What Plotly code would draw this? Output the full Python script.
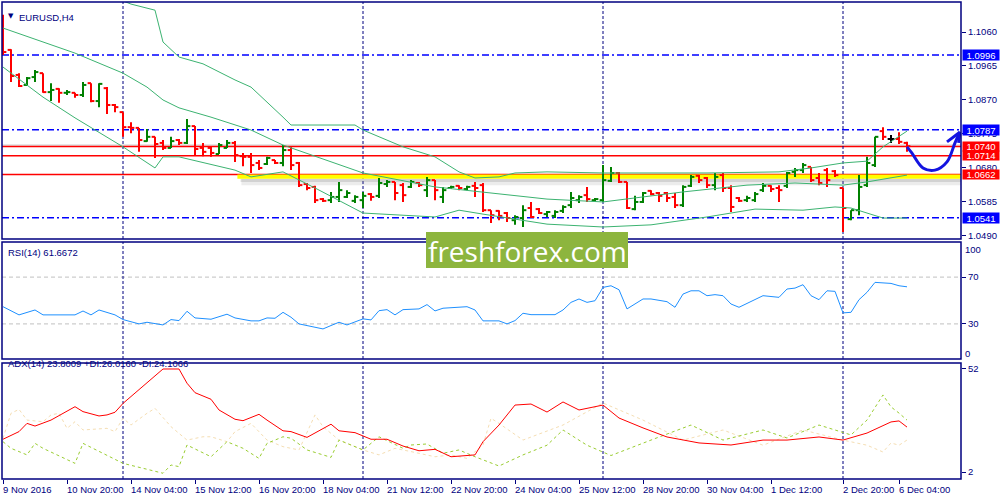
import plotly.graph_objects as go

# ---------------- data ----------------
OPEN = [1.1094,1.1010,1.0940,1.0912,1.0934,1.0945,1.0892,1.0901,1.0890,1.0890,
        1.0884,1.0917,1.0867,1.0903,1.0856,1.0836,1.0794,1.0792,1.0755,1.0767,
        1.0750,1.0736,1.0758,1.0750,1.0797,1.0736,1.0736,1.0719,1.0736,1.0750,
        1.0713,1.0711,1.0694,1.0691,1.0702,1.0694,1.0730,1.0694,1.0635,1.0627,
        1.0593,1.0590,1.0599,1.0599,1.0588,1.0590,1.0607,1.0602,1.0635,1.0641,
        1.0632,1.0627,1.0638,1.0618,1.0646,1.0599,1.0624,1.0630,1.0621,1.0630,
        1.0632,1.0562,1.0560,1.0554,1.0534,1.0540,1.0568,1.0565,1.0551,1.0546,
        1.0560,1.0576,1.0590,1.0604,1.0590,1.0590,1.0644,1.0666,1.0641,1.0565,
        1.0585,1.0616,1.0610,1.0610,1.0599,1.0576,1.0630,1.0658,1.0652,1.0632,
        1.0660,1.0624,1.0596,1.0590,1.0590,1.0618,1.0630,1.0624,1.0630,1.0669,
        1.0674,1.0683,1.0652,1.0674,1.0671,1.0624,1.0537,1.0562,1.0632,1.0688,
        1.0783,1.0761,1.0761,1.0750]
HIGH = [1.1108,1.1012,1.0945,1.0934,1.0954,1.0945,1.0917,1.0903,1.0898,1.0890,
        1.0920,1.0917,1.0917,1.0906,1.0859,1.0836,1.0808,1.0792,1.0789,1.0767,
        1.0758,1.0767,1.0761,1.0817,1.0797,1.0750,1.0739,1.0750,1.0758,1.0755,
        1.0722,1.0722,1.0702,1.0711,1.0702,1.0744,1.0739,1.0697,1.0638,1.0630,
        1.0596,1.0613,1.0641,1.0618,1.0604,1.0613,1.0610,1.0652,1.0646,1.0641,
        1.0638,1.0646,1.0641,1.0655,1.0646,1.0627,1.0630,1.0632,1.0630,1.0641,
        1.0638,1.0562,1.0562,1.0557,1.0548,1.0576,1.0585,1.0568,1.0560,1.0562,
        1.0576,1.0613,1.0604,1.0627,1.0596,1.0688,1.0683,1.0669,1.0641,1.0602,
        1.0613,1.0618,1.0613,1.0613,1.0610,1.0632,1.0660,1.0660,1.0655,1.0666,
        1.0666,1.0632,1.0599,1.0602,1.0613,1.0638,1.0632,1.0632,1.0669,1.0680,
        1.0694,1.0683,1.0666,1.0680,1.0674,1.0624,1.0562,1.0660,1.0711,1.0767,
        1.0794,1.0772,1.0780,1.0753]
LOW = [1.0996,1.0920,1.0906,1.0909,1.0920,1.0890,1.0867,1.0862,1.0884,1.0876,
       1.0878,1.0864,1.0850,1.0831,1.0836,1.0767,1.0777,1.0725,1.0753,1.0708,
       1.0730,1.0736,1.0744,1.0747,1.0716,1.0713,1.0711,1.0719,1.0736,1.0697,
       1.0685,1.0666,1.0674,1.0688,1.0691,1.0685,1.0674,1.0627,1.0618,1.0582,
       1.0585,1.0582,1.0585,1.0596,1.0582,1.0568,1.0588,1.0596,1.0627,1.0590,
       1.0585,1.0624,1.0627,1.0599,1.0590,1.0582,1.0621,1.0618,1.0618,1.0599,
       1.0557,1.0526,1.0534,1.0529,1.0521,1.0515,1.0540,1.0551,1.0543,1.0540,
       1.0554,1.0568,1.0582,1.0585,1.0585,1.0585,1.0641,1.0638,1.0565,1.0562,
       1.0582,1.0604,1.0585,1.0585,1.0568,1.0571,1.0627,1.0638,1.0624,1.0618,
       1.0613,1.0557,1.0585,1.0585,1.0585,1.0613,1.0613,1.0585,1.0624,1.0655,
       1.0666,1.0641,1.0632,1.0627,1.0655,1.0501,1.0534,1.0548,1.0627,1.0683,
       1.0758,1.0750,1.0747,1.0725]
CLOSE = [1.1004,1.0937,1.0909,1.0931,1.0948,1.0892,1.0898,1.0890,1.0892,1.0884,
         1.0912,1.0867,1.0915,1.0856,1.0850,1.0794,1.0792,1.0758,1.0767,1.0747,
         1.0736,1.0755,1.0750,1.0797,1.0733,1.0725,1.0722,1.0744,1.0750,1.0716,
         1.0711,1.0688,1.0680,1.0708,1.0694,1.0730,1.0688,1.0632,1.0624,1.0590,
         1.0588,1.0599,1.0618,1.0610,1.0599,1.0602,1.0599,1.0638,1.0641,1.0610,
         1.0604,1.0641,1.0632,1.0646,1.0618,1.0618,1.0627,1.0624,1.0627,1.0624,
         1.0562,1.0548,1.0546,1.0540,1.0543,1.0562,1.0543,1.0554,1.0557,1.0557,
         1.0571,1.0596,1.0599,1.0593,1.0593,1.0646,1.0666,1.0641,1.0568,1.0585,
         1.0610,1.0607,1.0602,1.0596,1.0576,1.0627,1.0655,1.0646,1.0632,1.0655,
         1.0624,1.0571,1.0588,1.0596,1.0607,1.0630,1.0621,1.0618,1.0666,1.0674,
         1.0688,1.0646,1.0638,1.0646,1.0660,1.0568,1.0562,1.0627,1.0694,1.0767,
         1.0767,1.0761,1.0753,1.0741]

# Bollinger bands (bar index, value)
BB_UP_IDX = [15,16,19,20,22,25,29,31,35,36,44,45,50,54,57,59,62,64,68,75,88,97,101,105,108,110,113]
BB_UP = [1.1147,1.1138,1.1121,1.1032,1.0990,1.0971,1.0926,1.0906,1.0822,1.0800,1.0800,1.0786,1.0739,
         1.0711,1.0669,1.0652,1.0655,1.0666,1.0669,1.0666,1.0666,1.0669,1.0680,1.0694,1.0699,1.0739,1.0783]
BB_MID_IDX = [0,9,15,18,20,22,26,31,35,45,54,68,75,85,93,99,105,108,113]
BB_MID = [1.1071,1.1001,1.0945,1.0906,1.0870,1.0848,1.0822,1.0786,1.0744,1.0666,1.0627,1.0593,1.0585,
          1.0613,1.0632,1.0638,1.0632,1.0641,1.0660]
BB_LOW_IDX = [0,5,9,15,19,20,22,29,31,33,35,39,42,45,54,57,60,68,75,81,88,94,100,104,106,108,110,113]
BB_LOW = [1.0962,1.0878,1.0820,1.0739,1.0680,1.0711,1.0711,1.0674,1.0655,1.0663,1.0669,1.0624,1.0590,
          1.0554,1.0543,1.0562,1.0551,1.0523,1.0515,1.0521,1.0543,1.0565,1.0562,1.0571,1.0568,1.0554,1.0540,1.0540]

RSI_IDX = [0,2,4,5,9,10,11,12,14,15,17,18,20,21,22,23,24,26,28,29,31,32,33,34,35,36,37,38,40,41,
           42,43,44,45,46,47,48,49,50,52,53,54,55,57,58,59,60,62,63,64,65,66,69,70,71,72,73,74,75,76,
           77,78,79,80,81,83,84,85,86,87,88,89,90,91,92,93,95,97,98,99,100,101,102,103,104,105,106,107,
           108,109,110,111,112,113]
RSI = [44.7,37.7,41.9,37.7,37.7,41,37.7,41.9,37.7,33.7,30,31.4,29.1,33.7,32.8,40.8,35.1,34,38.3,35.1,
       32.6,32.6,35.1,34.8,39.9,35.7,30,28.6,25.7,28.6,31.4,29.1,31.4,34.3,33.4,41.3,42.2,37.7,42.2,42.8,
       46.5,41.1,43.4,43.9,44.7,41.9,32.6,32.6,30,32.8,39.1,37.9,37.9,41.9,48.4,51.3,48.4,49.8,61.2,62.6,
       59.2,42.8,47,51.3,51.3,49,44.2,55.5,58.3,58.3,54.1,55,54.1,47,44.2,47.6,54.1,52.7,59.8,60.6,
       63.5,54.1,50.7,58.3,57.8,39.4,39.9,50.7,57,65.5,64.9,64.6,62.6,61.7]

ADX_IDX = [0,2,3,4,6,9,10,12,13,14,15,17,19,20,22,23,24,26,27,29,30,32,33,35,36,38,41,42,44,46,
           48,50,52,54,56,59,60,62,64,66,68,70,72,75,77,80,83,87,91,95,98,102,105,108,110,111,112,113]
ADX = [17.9,21.6,25.6,24.3,27.2,33.7,31.3,29.2,29.7,31,35.3,41.8,48.3,52,52,45.1,40.5,37.3,32.1,27.6,
       26.9,30,27.2,22,21.6,18.8,25.2,22,21.1,17.9,17.9,14.6,12.3,13,9.4,10.3,16.7,24.8,34.5,35,
       31.1,36,32.1,34.5,28.2,23.4,19,16.1,15.1,17.5,17.5,19,17.5,20.9,24.5,26.3,26.8,23.8]
PDI_IDX = [0,1,3,4,5,9,10,12,15,20,21,22,23,26,28,30,32,33,35,36,38,41,42,45,47,50,51,53,55,57,
           59,62,65,68,70,73,76,81,86,90,95,98,102,106,108,110,111,112,113]
PDI = [16.7,13.5,10.3,15.9,13.5,6.2,15.9,11.9,6.2,1.4,5.4,4.6,15.1,9.4,16.7,13.5,8.6,15.9,19.1,18.4,
       12.7,9.1,17.5,12.7,19.1,13.5,15.1,15.6,11.1,12.7,9.4,4.9,10.3,15,22.4,15,10,17.5,24.8,17.5,
       22.4,18.5,24.8,20,27.2,39.4,33.6,30.6,27.2]
MDI_IDX = [0,1,2,3,5,6,7,8,9,10,13,14,15,16,18,19,21,23,25,26,28,29,31,33,35,37,39,40,42,45,
           47,49,51,54,56,58,60,61,62,65,70,75,80,85,90,95,100,105,108,110,111,112,113]
MDI = [18.4,30.5,32.4,27.2,26.4,29.7,30.5,23.2,26.4,22.4,23.2,21.6,28.1,24.8,30.5,32.9,24,17.5,19.1,19.1,
       16.7,21.6,25.6,17.5,14.3,12.7,29.7,24,17.5,12.7,10.3,13.5,11.9,9.4,10.3,8.6,15.1,28.1,25.6,17.5,
       24.8,35.5,27.2,17.5,22.4,15,22.4,17.5,15,11.7,16.1,15,17.5]

X_TICK_IDX = [0,8,16,24,32,40,48,56,64,72,80,88,96,105,112]
X_TICK_TEXT = ["9 Nov 2016","10 Nov 20:00","14 Nov 04:00","15 Nov 12:00","16 Nov 20:00",
               "18 Nov 04:00","21 Nov 12:00","22 Nov 20:00","24 Nov 04:00","25 Nov 12:00",
               "28 Nov 20:00","30 Nov 04:00","1 Dec 12:00","2 Dec 20:00","6 Dec 04:00"]
WEEK_SEPARATORS = [15,45,75,105]
PRICE_TICKS = [1.1060,1.0965,1.0870,1.0775,1.0680,1.0585,1.0490]
BLUE_LEVELS = [1.0996,1.0787,1.0541]
RED_LEVELS = [1.0740,1.0714,1.0662]
BID_LEVEL = 1.0744
ZONE = [1.0650,1.0662]
ZONE_START = 29.3
ARROW_X = [113,113.6,115,116.5,118,119,119.6]
ARROW_Y = [1.0739,1.0722,1.0680,1.0674,1.0697,1.0750,1.0780]
ARROW_HEAD_X = [118,119.6,119.45]
ARROW_HEAD_Y = [1.0753,1.0780,1.0750]

# ---------------- styling ----------------
NAVY = "#000080"
FONT = "Liberation Sans"
GREEN_BAR = "#008000"
RED_BAR = "#FF0000"
BB_COLOR = "#3CB371"

fig = go.Figure()

# OHLC bars as line segments
groups = {"up": ([], [], GREEN_BAR), "down": ([], [], RED_BAR), "doji": ([], [], "#000000")}
TW = 0.42
for i, (o, h, l, c) in enumerate(zip(OPEN, HIGH, LOW, CLOSE)):
    key = "up" if c > o else ("down" if c < o else "doji")
    xs, ys, _ = groups[key]
    xs += [i, i, None, i - TW, i, None, i, i + TW, None]
    ys += [l, h, None, o, o, None, c, c, None]
for key, (xs, ys, col) in groups.items():
    fig.add_trace(go.Scatter(x=xs, y=ys, mode="lines", line=dict(color=col, width=2),
                             xaxis="x", yaxis="y", hoverinfo="skip"))

for xi, yv in [(BB_UP_IDX, BB_UP), (BB_MID_IDX, BB_MID), (BB_LOW_IDX, BB_LOW)]:
    fig.add_trace(go.Scatter(x=xi, y=yv, mode="lines", line=dict(color=BB_COLOR, width=1),
                             xaxis="x", yaxis="y"))

fig.add_trace(go.Scatter(x=ARROW_X, y=ARROW_Y, mode="lines",
                         line=dict(color="#1414E0", width=3, shape="spline"), xaxis="x", yaxis="y"))
fig.add_trace(go.Scatter(x=ARROW_HEAD_X, y=ARROW_HEAD_Y, mode="lines",
                         line=dict(color="#1414E0", width=3), xaxis="x", yaxis="y"))

fig.add_trace(go.Scatter(x=RSI_IDX, y=RSI, mode="lines", line=dict(color="#1E90FF", width=1),
                         xaxis="x", yaxis="y2"))

fig.add_trace(go.Scatter(x=MDI_IDX, y=MDI, mode="lines", line=dict(color="#F5DEB3", width=1, dash="dot"),
                         xaxis="x", yaxis="y3"))
fig.add_trace(go.Scatter(x=PDI_IDX, y=PDI, mode="lines", line=dict(color="#9ACD32", width=1, dash="dot"),
                         xaxis="x", yaxis="y3"))
fig.add_trace(go.Scatter(x=ADX_IDX, y=ADX, mode="lines", line=dict(color="#FF0000", width=1),
                         xaxis="x", yaxis="y3"))

# ---------------- layout ----------------
PX_TOP, PX_BOTTOM = 2, 479
PX_LEFT, PX_RIGHT = 2, 961
H = PX_BOTTOM - PX_TOP
W = PX_RIGHT - PX_LEFT


def dom(top, bottom):
    return [(PX_BOTTOM - bottom) / H, (PX_BOTTOM - top) / H]


def px_y(py):
    return (PX_BOTTOM - py) / H


def px_x(px):
    return (px - PX_LEFT) / W


axis_common = dict(side="right", anchor="x", ticks="outside", ticklen=4, tickcolor=NAVY,
                   showgrid=False, zeroline=False, showline=False,
                   tickfont=dict(family=FONT, size=9.5, color=NAVY))

fig.update_layout(
    width=1000, height=500,
    margin=dict(l=PX_LEFT, r=1000 - PX_RIGHT, t=PX_TOP, b=500 - PX_BOTTOM, pad=0),
    paper_bgcolor="white", plot_bgcolor="white", showlegend=False,
    font=dict(family=FONT, size=9.5, color=NAVY),
    xaxis=dict(domain=[0, 1], range=[-0.125, 119.75], anchor="y3", tickvals=X_TICK_IDX,
               ticks="outside", ticklen=4, tickcolor=NAVY, showticklabels=False,
               showgrid=False, zeroline=False, showline=False),
    yaxis=dict(domain=dom(2, 239), range=[1.048144, 1.114385], tickvals=PRICE_TICKS,
               tickformat=".4f", **axis_common),
    yaxis2=dict(domain=dom(242, 359), range=[0, 100], tickvals=[30, 70], **axis_common),
    yaxis3=dict(domain=dom(363, 479), range=[-1.40, 54.91], tickvals=[2, 52], **axis_common),
)

shapes = []
# zone shadow + yellow zone
shapes.append(dict(type="rect", xref="x", yref="y", x0=ZONE_START + 0.5, x1=120, y0=ZONE[0] - 0.0018,
                   y1=ZONE[0], fillcolor="rgba(110,110,110,0.13)", line=dict(width=0), layer="below"))
shapes.append(dict(type="rect", xref="x", yref="y", x0=ZONE_START + 0.4, x1=120, y0=ZONE[0] - 0.0009,
                   y1=ZONE[0], fillcolor="rgba(110,110,110,0.2)", line=dict(width=0), layer="below"))
shapes.append(dict(type="rect", xref="x", yref="y", x0=ZONE_START, x1=120, y0=ZONE[0], y1=ZONE[1],
                   fillcolor="#FFFF00", line=dict(width=0), layer="below"))
shapes.append(dict(type="line", xref="paper", yref="y", x0=0, x1=1, y0=BID_LEVEL, y1=BID_LEVEL,
                   line=dict(color="#C8C8C8", width=1), layer="below"))
for v in RED_LEVELS:
    shapes.append(dict(type="line", xref="paper", yref="y", x0=0, x1=1, y0=v, y1=v,
                       line=dict(color="#FF0000", width=1.5), layer="below"))
for v in BLUE_LEVELS:
    shapes.append(dict(type="line", xref="paper", yref="y", x0=0, x1=1, y0=v, y1=v,
                       line=dict(color="#0000FF", width=1.5, dash="7px,3px,2px,3px"), layer="below"))
for v in [30, 70]:
    shapes.append(dict(type="line", xref="paper", yref="y2", x0=0, x1=1, y0=v, y1=v,
                       line=dict(color="#C0C0C0", width=1, dash="4px,3px"), layer="below"))
for yr in ["y domain", "y2 domain", "y3 domain"]:
    for s in WEEK_SEPARATORS:
        shapes.append(dict(type="line", xref="x", yref=yr, x0=s, x1=s, y0=0, y1=1,
                           line=dict(color=NAVY, width=1, dash="3px,2px"), layer="below"))
    shapes.append(dict(type="rect", xref="paper", yref=yr, x0=0, x1=1, y0=0, y1=1,
                       line=dict(color=NAVY, width=1.5), fillcolor="rgba(0,0,0,0)", layer="above"))
# logo box
shapes.append(dict(type="rect", xref="paper", yref="paper", x0=px_x(426), x1=px_x(628),
                   y0=px_y(268), y1=px_y(232), fillcolor="#8DB53E", line=dict(width=0), layer="above"))
fig.update_layout(shapes=shapes)

ann = []
for i, t in zip(X_TICK_IDX, X_TICK_TEXT):
    ann.append(dict(x=i, xref="x", y=0, yref="paper", text=t, showarrow=False, xanchor="left",
                    yanchor="top", xshift=-2, yshift=-3, font=dict(family=FONT, size=9.5, color=NAVY)))
for v in BLUE_LEVELS:
    ann.append(dict(x=1, xref="paper", y=v, yref="y", text=f"{v:.4f}", showarrow=False, xanchor="left",
                    xshift=1, bgcolor="#0000FF", width=36, height=10, borderpad=0,
                    font=dict(family=FONT, size=9.5, color="white")))
for v in RED_LEVELS:
    ann.append(dict(x=1, xref="paper", y=v, yref="y", text=f"{v:.4f}", showarrow=False, xanchor="left",
                    xshift=1, bgcolor="#FF0000", width=36, height=9, borderpad=0,
                    font=dict(family=FONT, size=9.5, color="white")))
ann.append(dict(x=1, xref="paper", y=100, yref="y2", text="100", showarrow=False, xanchor="left",
                xshift=2, yshift=-7, font=dict(family=FONT, size=9.5, color=NAVY)))
ann.append(dict(x=1, xref="paper", y=0, yref="y2", text="0", showarrow=False, xanchor="left",
                xshift=2, yshift=6, font=dict(family=FONT, size=9.5, color=NAVY)))
ann.append(dict(x=px_x(6), xref="paper", y=px_y(10), yref="paper", text="▼", showarrow=False,
                xanchor="left", font=dict(family="DejaVu Sans", size=7, color=NAVY)))
ann.append(dict(x=px_x(18), xref="paper", y=px_y(10), yref="paper", text="EURUSD,H4", showarrow=False,
                xanchor="left", xshift=-1, font=dict(family=FONT, size=9.5, color=NAVY)))
ann.append(dict(x=px_x(7), xref="paper", y=px_y(252), yref="paper", text="RSI(14) 61.6672",
                showarrow=False, xanchor="left", xshift=-1, font=dict(family=FONT, size=9.5, color=NAVY)))
ann.append(dict(x=px_x(7), xref="paper", y=px_y(371), yref="paper",
                text="ADX(14) 23.8009 +DI:26.0160 -DI:24.1066",
                showarrow=False, xanchor="left", xshift=-1, font=dict(family=FONT, size=9.5, color=NAVY)))
ann.append(dict(x=px_x(527), xref="paper", y=px_y(251), yref="paper", text="freshforex.com",
                showarrow=False, font=dict(family="Open Sans", size=28, color="white")))
fig.update_layout(annotations=ann)

fig.write_html("out.html", config={"displayModeBar": False},
               post_script="document.body.style.margin='0';document.body.style.overflow='hidden';")
